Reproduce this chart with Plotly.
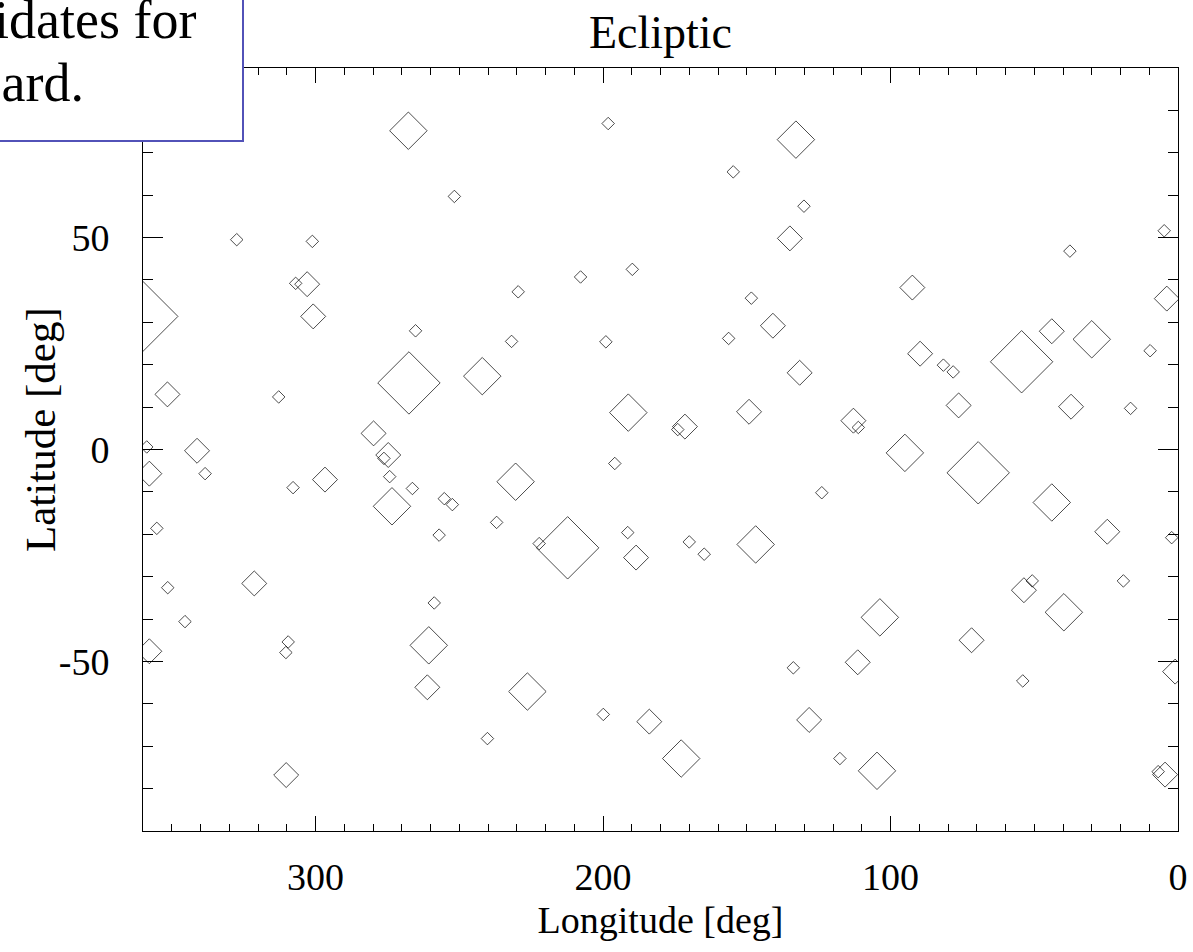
import plotly.graph_objects as go

# Ecliptic longitude [deg]
longitude = [267.7, 251.7, 327.4, 301.1, 306.9, 302.9, 360.0, 300.8, 265.2, 198.2,
             132.9, 154.7, 130.1, 135.0, 189.8, 207.8, 229.5, 148.4, 140.9, 4.8,
             37.6, 92.4, 3.9, 267.5, 242.0, 351.5, 312.8, 279.8, 274.7, 276.2,
             358.7, 341.2, 357.8, 338.4, 274.2, 307.8, 296.7, 266.3, 273.4, 255.2,
             252.4, 231.8, 199.0, 156.3, 131.6, 191.2, 171.5, 174.0, 149.2, 195.9,
             230.4, 123.9, 237.0, 212.3, 222.2, 191.4, 188.5, 170.0, 164.8, 146.9,
             43.9, 30.0, 9.7, 89.7, 81.6, 78.2, 54.4, 76.3, 37.2, 16.5,
             112.9, 111.2, 95.0, 69.5, 43.9, 24.6, 2.2, 50.7, 19.0, 351.4,
             321.3, 258.7, 345.4, 357.8, 309.5, 310.3, 260.6, 261.1, 240.2, 310.2,
             226.3, 199.9, 183.9, 172.8, 133.8, 128.3, 117.6, 103.7, 111.4, 71.8,
             54.0, 53.6, 39.7, 1.0, 104.7, 4.5, 6.9, 355.2, 257.0]

# Ecliptic latitude [deg]
latitude = [75.2, 59.7, 49.5, 49.1, 39.2, 39.0, 31.4, 31.4, 28.0, 76.9,
            73.1, 65.5, 57.4, 49.8, 42.5, 40.7, 37.2, 35.7, 29.2, 51.6,
            46.8, 38.2, 35.6, 15.7, 17.3, 13.0, 12.4, 3.8, -1.3, -2.1,
            0.6, -0.3, -5.7, -5.7, -6.4, -9.0, -7.1, -9.2, -13.4, -11.6,
            -13.0, 25.5, 25.4, 26.2, 18.1, 8.7, 5.4, 4.7, 8.9, -3.3,
            -7.6, -10.2, -17.2, -23.2, -22.2, -19.6, -25.5, -21.8, -24.7, -22.4,
            27.9, 26.0, 23.3, 22.6, 19.9, 18.3, 20.7, 10.4, 10.1, 9.7,
            6.8, 5.2, -0.8, -5.5, -12.5, -19.4, -20.8, -31.0, -31.0, -32.6,
            -31.6, -36.2, -40.6, -47.6, -45.4, -47.9, -46.2, -56.1, -68.2, -76.8,
            -57.1, -62.5, -64.2, -72.9, -51.5, -63.8, -72.9, -39.6, -50.2, -45.0,
            -54.6, -33.2, -38.4, -52.4, -75.8, -76.7, -76.0, -18.6, -20.2]

# relative weight of each candidate (sets the diamond size)
weight = [3, 1, 1, 1, 1, 2, 5.6, 2, 1, 1,
          3, 1, 1, 2, 1, 1, 1, 1, 2, 1,
          1, 2, 2, 5, 3, 2, 1, 2, 2, 1,
          1, 2, 2, 1, 1, 1, 2, 1, 3, 1,
          1, 1, 1, 1, 2, 3, 2, 1, 2, 1,
          3, 1, 1, 5, 1, 1, 2, 1, 1, 3,
          2, 3, 1, 2, 1, 1, 5, 2, 2, 1,
          2, 1, 3, 5, 3, 2, 1, 1, 1, 1,
          2, 1, 1, 2, 1, 1, 3, 2, 1, 2,
          3, 1, 2, 3, 1, 2, 1, 3, 2, 2,
          1, 2, 3, 2, 3, 2, 1, 1, 1]

x_ticks = [300, 200, 100, 0]
y_ticks = [-50, 0, 50]
y_tick_labels = ["-50", "0", "50"]
note_lines = ["Candidates for", "on board."]

SIZE_PER_WEIGHT = 9.6
FONT = "Liberation Serif, Times New Roman, serif"
W, H = 1193, 952
ML, MR, MT, MB = 143, 15, 68, 121
PW, PH = W - ML - MR, H - MT - MB


def px_x(p):  # page pixel -> paper x
    return (p - ML) / PW


def px_y(p):  # page pixel -> paper y
    return (H - MB - p) / PH


fig = go.Figure()
fig.add_trace(go.Scatter(
    x=longitude, y=latitude, mode="markers",
    marker=dict(symbol="diamond-open",
                size=[w * SIZE_PER_WEIGHT for w in weight],
                color="black", line=dict(color="black", width=1)),
    cliponaxis=True, showlegend=False, hoverinfo="x+y",
))

axis_common = dict(
    showline=True, linecolor="black", linewidth=1, mirror="ticks",
    ticks="inside", tickcolor="black", tickwidth=1,
    showgrid=False, zeroline=False,
    tickfont=dict(family=FONT, size=38, color="black"),
)

fig.update_xaxes(
    range=[360, 0], tickvals=x_ticks, ticklen=15,
    minor=dict(dtick=10, ticklen=7, ticks="inside", tickcolor="black", showgrid=False),
    title=dict(text="Longitude [deg]", font=dict(family=FONT, size=38, color="black"), standoff=9),
    ticklabelstandoff=12,
    **axis_common,
)
fig.update_yaxes(
    range=[-90, 90], tickvals=y_ticks, ticktext=y_tick_labels, ticklen=20,
    minor=dict(dtick=10, ticklen=10, ticks="inside", tickcolor="black", showgrid=False),
    ticklabelstandoff=25,
    **axis_common,
)

annotations = [
    dict(xref="paper", yref="paper", x=px_x(40), y=px_y(430),
         xanchor="center", yanchor="middle", textangle=-90,
         text="Latitude [deg]", showarrow=False,
         font=dict(family=FONT, size=43, color="black")),
]
for i, line in enumerate(note_lines):
    annotations.append(dict(
        xref="paper", yref="paper", x=px_x(-122), y=px_y(20 + 63 * i),
        xanchor="left", yanchor="middle", text=line, showarrow=False,
        font=dict(family=FONT, size=54, color="black"),
    ))

fig.update_layout(
    width=W, height=H,
    margin=dict(l=ML, r=MR, t=MT, b=MB, autoexpand=False),
    paper_bgcolor="white", plot_bgcolor="white",
    title=dict(text="Ecliptic", x=660.5 / W, xanchor="center",
               y=1 - 32 / H, yanchor="middle", yref="container",
               font=dict(family=FONT, size=46, color="black")),
    shapes=[dict(type="rect", xref="paper", yref="paper",
                 x0=px_x(-30), x1=px_x(243), y0=px_y(141), y1=px_y(-30),
                 line=dict(color="#5252b8", width=2), fillcolor="white",
                 layer="above")],
    annotations=annotations,
)

fig.write_html("out.html", config={"displayModeBar": False},
               post_script="document.body.style.margin='0px';")
